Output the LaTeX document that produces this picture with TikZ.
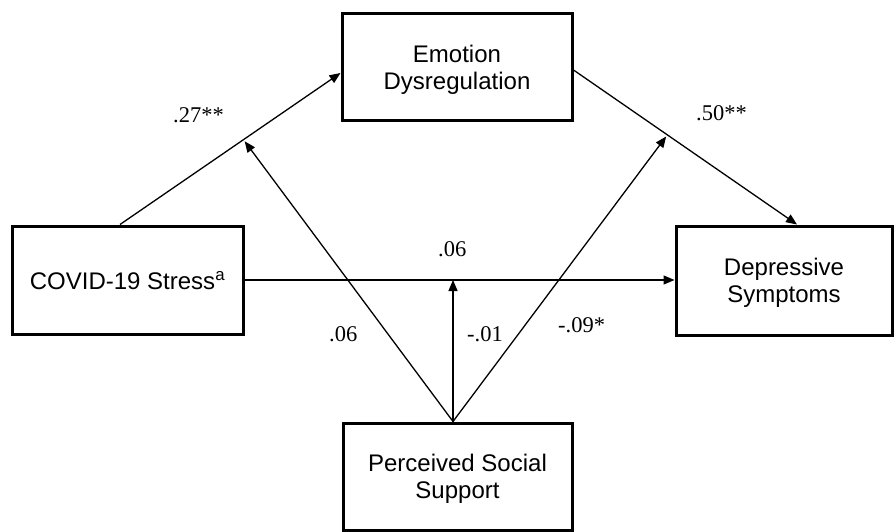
\documentclass[tikz,border=0pt]{standalone}
\usepackage{fontspec}
\setmainfont{Liberation Serif}
\newfontfamily\arialfont{Liberation Sans}
\usetikzlibrary{positioning,calc,arrows.meta}

\begin{document}
\begin{tikzpicture}[x=1pt, y=-1pt,
    varbox/.style={draw, line width=3pt, inner sep=0pt, align=center, text depth=0pt,
      font=\arialfont\fontsize{24}{27}\selectfont},
    coef/.style={inner sep=0pt, anchor=base west, font=\fontsize{22.5}{26}\selectfont},
    link/.style={line width=1.3pt, -{Triangle[length=11pt, width=9pt]}}]
  \useasboundingbox (0,0) rectangle (894,532);

  % Variables
  \node[varbox, minimum width=231pt, minimum height=108pt] (cov) at (127.5,280) {COVID-19 Stress\textsuperscript{a}};
  \node[varbox, minimum width=230pt, minimum height=107pt] (emo) at (457,67.5) {Emotion\\Dysregulation};
  \node[varbox, minimum width=216pt, minimum height=109pt] (dep) at (784,280.5) {Depressive\\Symptoms};
  \node[varbox, minimum width=229pt, minimum height=107pt] (pss) at (457.5,476.5) {Perceived Social\\Support};

  % Mediation paths
  \coordinate (covtop) at ($(cov.north)+(-7.5,0)$);
  \coordinate (emoin) at ($(emo.west)+(0,5.5)$);
  \coordinate (emoout) at ($(emo.east)+(0,2.5)$);
  \coordinate (depin) at ($(dep.north)+(13,0)$);
  \draw[link] (covtop) -- (emoin);
  \draw[link] (emoout) -- (depin);
  \draw[link] (cov.east) -- (cov.east -| dep.west);

  % Moderation by social support
  \coordinate (apex) at ($(pss.north)+(-4.5,0)$);
  \coordinate (moda) at ($(covtop)!0.56!(emoin)$);
  \coordinate (modb) at ($(emoout)!0.42!(depin)$);
  \draw[link, shorten >=2pt] (apex) -- (moda);
  \draw[link] (apex) -- (apex |- cov.east);
  \draw[link, shorten >=2pt] (apex) -- (modb);

  % Coefficients
  \node[coef] (b27) at (173,123) {.27**};
  \node[coef] (b50) at (696,121) {.50**};
  \node[coef] (b06) at (438,256) {.06};
  \node[coef] (w06) at (329,341) {.06};
  \node[coef] (w01) at (467,341) {-.01};
  \node[coef] (w09) at (558,332) {-.09*};
\end{tikzpicture}
\end{document}
